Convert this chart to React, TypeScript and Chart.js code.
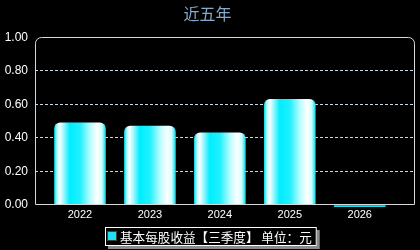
import React, { useEffect, useRef } from "react";
import { Chart, registerables } from "chart.js";

Chart.register(...registerables);

const categories = ["2022", "2023", "2024", "2025", "2026"];
const epsValues = [0.49, 0.47, 0.43, 0.63, -0.01];
const yTicks = [0, 0.2, 0.4, 0.6, 0.8, 1.0];
const titleText = "近五年";
const seriesLabel = "基本每股收益【三季度】 单位：元";

const BAR_W = 51;

function barGradient(ctx: any) {
  const chart = ctx.chart;
  const xs = chart.scales?.x;
  if (!xs || !chart.chartArea) return "#00f0ff";
  const v = ctx.raw && typeof ctx.raw === "object" ? ctx.raw.y : ctx.raw;
  if (v < 0) return "#10e4f4";
  const cx = xs.getPixelForValue(ctx.dataIndex);
  const g = chart.ctx.createLinearGradient(cx - BAR_W / 2, 0, cx + BAR_W / 2, 0);
  g.addColorStop(0, "#10dce8");
  g.addColorStop(0.05, "#b0f8ff");
  g.addColorStop(0.1, "#ffffff");
  g.addColorStop(0.17, "#a8faff");
  g.addColorStop(0.3, "#00eeff");
  g.addColorStop(0.5, "#20f0ff");
  g.addColorStop(0.7, "#b8fcff");
  g.addColorStop(0.84, "#ffffff");
  g.addColorStop(0.93, "#c8ffff");
  g.addColorStop(1, "#10dce8");
  return g;
}

const framePlugin = {
  id: "frame",
  afterDatasetsDraw(chart: any) {
    const { ctx, chartArea: a } = chart;
    const l = Math.round(a.left) + 0.5;
    const r = Math.round(a.right) - 0.5;
    const t = Math.round(a.top) + 0.5;
    const b = Math.round(a.bottom) - 0.5;
    const rad = 6;
    ctx.save();
    ctx.strokeStyle = "#d8d8d8";
    ctx.lineWidth = 1;
    ctx.beginPath();
    ctx.moveTo(l, b);
    ctx.lineTo(l, t + rad);
    ctx.arcTo(l, t, l + rad, t, rad);
    ctx.lineTo(r - rad, t);
    ctx.arcTo(r, t, r, t + rad, rad);
    ctx.lineTo(r, b);
    ctx.lineTo(l, b);
    ctx.stroke();
    ctx.restore();
  },
};

const legendPlugin = {
  id: "boxLegend",
  afterDraw(chart: any) {
    const { ctx } = chart;
    const label = chart.data.datasets[0].label;
    ctx.save();
    ctx.font = '12.6px "Noto Sans CJK SC", sans-serif';
    const tw = ctx.measureText(label).width;
    const boxW = 10;
    const w = 2 + boxW + 3 + tw + 5;
    const h = 19;
    const x = 105;
    const y = 227;
    ctx.fillStyle = "#8a8a8a";
    ctx.fillRect(x + 3, y + 3, w, h);
    ctx.fillStyle = "#000000";
    ctx.fillRect(x, y, w, h);
    ctx.strokeStyle = "#ffffff";
    ctx.lineWidth = 1;
    ctx.strokeRect(x + 0.5, y + 0.5, w - 1, h - 1);
    ctx.fillStyle = "#20e0f0";
    ctx.fillRect(x + 2, y + 4, boxW, boxW);
    ctx.strokeStyle = "#404040";
    ctx.strokeRect(x + 2.5, y + 4.5, boxW - 1, boxW - 1);
    ctx.fillStyle = "#ffffff";
    ctx.textBaseline = "middle";
    ctx.textAlign = "left";
    ctx.fillText(label, x + 2 + boxW + 3, y + h / 2 + 0.5);
    ctx.restore();
  },
};

export default function App() {
  const ref = useRef<HTMLCanvasElement>(null);
  useEffect(() => {
    document.body.style.margin = "0";
    document.body.style.background = "#000";
    const canvas = ref.current!;
    const chart = new Chart(canvas, {
      type: "bar",
      data: {
        datasets: [
          {
            label: seriesLabel,
            data: epsValues.map((v, i) => ({ x: i, y: v })),
            backgroundColor: barGradient,
            borderWidth: 0,
            borderRadius: (c: any) => {
              const v = c.raw && typeof c.raw === "object" ? c.raw.y : c.raw;
              return v < 0 ? 0 : { topLeft: 6, topRight: 6, bottomLeft: 0, bottomRight: 0 };
            },
            borderSkipped: "start",
            barThickness: BAR_W,
            clip: false as any,
          },
        ],
      },
      options: {
        responsive: false,
        animation: false,
        layout: { padding: { left: 0, right: 5, top: 0, bottom: 0 } },
        plugins: {
          legend: { display: false },
          tooltip: { enabled: false },
          title: {
            display: true,
            text: titleText,
            color: "#86a8cc",
            font: { size: 16, family: '"Noto Sans CJK SC", sans-serif', weight: "normal" },
            padding: { top: 4, bottom: 14 },
          },
        },
        scales: {
          x: {
            type: "linear",
            offset: false,
            min: -0.643,
            max: 4.79,
            grid: { display: false, drawTicks: false, offset: false },
            border: { display: false },
            afterBuildTicks: (s: any) => {
              s.ticks = categories.map((_, i) => ({ value: i }));
            },
            afterFit: (s: any) => {
              s.height = 45;
            },
            ticks: {
              color: "#ffffff",
              padding: 3,
              autoSkip: false,
              maxRotation: 0,
              font: { size: 11, family: '"Liberation Sans", Arial, sans-serif' },
              callback: (v: any) => categories[v] ?? "",
            },
          },
          y: {
            min: 0,
            max: 1,
            afterBuildTicks: (s: any) => {
              s.ticks = yTicks.map((v) => ({ value: v }));
            },
            afterFit: (s: any) => {
              s.width = 35;
            },
            grid: {
              drawTicks: false,
              color: (c: any) =>
                c.tick && (c.tick.value === 0 || c.tick.value === 1) ? "rgba(0,0,0,0)" : "#c8d8e4",
              lineWidth: 1,
            },
            border: { display: false, dash: [3, 2] } as any,
            ticks: {
              color: "#ffffff",
              padding: 7,
              font: { size: 12, family: '"Liberation Sans", Arial, sans-serif' },
              callback: (v: any) => Number(v).toFixed(2),
            },
          },
        },
      },
      plugins: [framePlugin, legendPlugin],
    });
    return () => chart.destroy();
  }, []);
  return (
    <div style={{ width: 420, height: 250, background: "#000" }}>
      <canvas ref={ref} width={420} height={250} style={{ display: "block" }} />
    </div>
  );
}
